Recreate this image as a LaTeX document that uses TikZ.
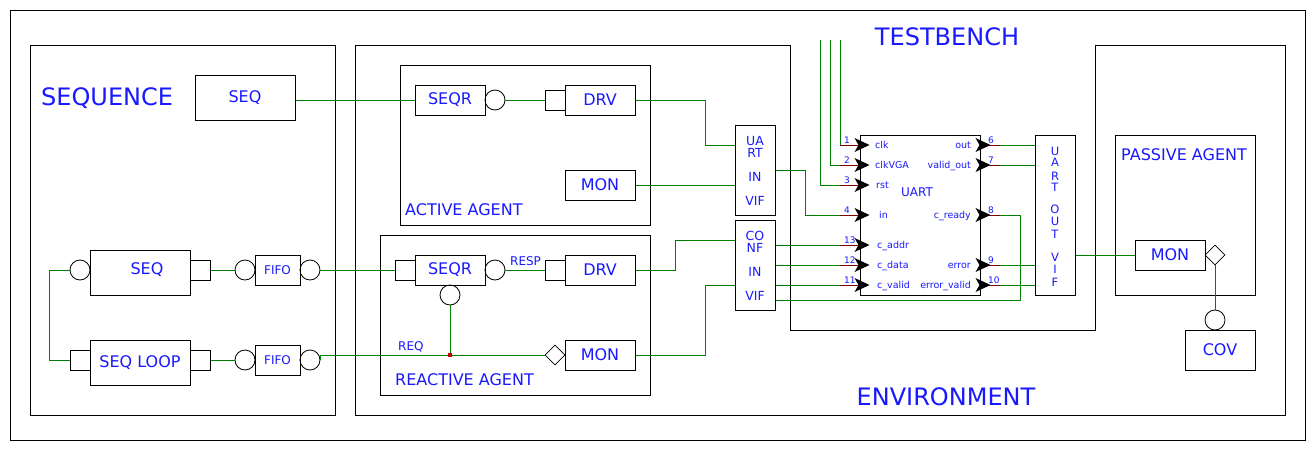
\documentclass[tikz,border=0pt]{standalone}
\usepackage{fontspec}
\setmainfont{DejaVu Sans}
\usetikzlibrary{shapes.geometric,calc}
\definecolor{txtblue}{RGB}{25,25,255}
\definecolor{wiregreen}{RGB}{0,128,0}
\definecolor{stubred}{RGB}{128,0,0}
\definecolor{dotred}{RGB}{200,0,0}
\newcommand\fsz[1]{\fontsize{#1}{#1}\selectfont}
\begin{document}
\begin{tikzpicture}[x=1pt,y=-1pt,
  blk/.style={draw=black,line width=1pt,inner sep=0pt,text=txtblue,font=\fsz{16},minimum width=70,minimum height=30},
  outline/.style={draw=black,line width=1pt},
  port/.style={draw=black,line width=0.8pt,circle,minimum size=20,inner sep=0pt},
  sqport/.style={draw=black,line width=1pt,minimum size=20,inner sep=0pt},
  dia/.style={draw=black,line width=0.8pt,diamond,minimum width=20,minimum height=20,inner sep=0pt},
  wire/.style={draw=wiregreen,line width=1pt},
  stub/.style={draw=stubred,line width=1pt},
  lbl/.style={text=txtblue,inner sep=0pt}
]
\useasboundingbox (0,0) rectangle (1315,450);
\fill[white] (0,0) rectangle (1315,450);
% frames
\draw[outline] (10,10) rectangle (1305,440);
\draw[outline] (30,45) rectangle (335,415);
\draw[outline] (355,45) -- (790,45) -- (790,330) -- (1095,330) -- (1095,45) -- (1285,45) -- (1285,415) -- (355,415) -- cycle;
\draw[outline] (400,65) rectangle (650,225);
\draw[outline] (380,235) rectangle (650,395);
\draw[outline] (1115,135) rectangle (1255,295);
% titles
\node[lbl,font=\fsz{24},anchor=base west] (tseq) at (41,105) {SEQUENCE};
\node[lbl,font=\fsz{24},anchor=base] (ttb) at (947,45) {TESTBENCH};
\node[lbl,font=\fsz{24},anchor=base] (tenv) at (946,405) {ENVIRONMENT};
\node[lbl,font=\fsz{16},anchor=base west] (tact) at (405,215) {ACTIVE AGENT};
\node[lbl,font=\fsz{16},anchor=base west] (treac) at (395,385) {REACTIVE AGENT};
\node[lbl,font=\fsz{16},anchor=base west] (tpas) at (1121,160) {PASSIVE AGENT};
\node[lbl,font=\fsz{12},anchor=base west] (tresp) at (510,265) {RESP};
\node[lbl,font=\fsz{12},anchor=base west] (treq) at (398,350) {REQ};
% sequence area
\node[blk,minimum width=100,minimum height=45] (seqtop) at (245,98) {SEQ};
\node[blk,minimum width=100,minimum height=45] (seq2) at (140,272.5) {};
\node[lbl,font=\fsz{16}] (seq2t) at (147,270) {SEQ};
\node[blk,minimum width=100,minimum height=45] (seql) at (140,362.5) {SEQ LOOP};
\node[port] (circS) at (80,270) {};
\node[sqport] (sqS) at (200,270) {};
\node[port] (cf1L) at (245,270) {};
\node[blk,font=\fsz{12},minimum width=45,minimum height=30] (fifo1) at (277.5,270) {FIFO};
\node[port] (cf1R) at (310,270) {};
\node[sqport] (sqL) at (80,360) {};
\node[sqport] (sqLR) at (200,360) {};
\node[port] (cf2L) at (245,360) {};
\node[blk,font=\fsz{12},minimum width=45,minimum height=30] (fifo2) at (277.5,360) {FIFO};
\node[port] (cf2R) at (310,360) {};
% active agent
\node[blk] (seqrA) at (450,100) {SEQR};
\node[port] (circA) at (495,100) {};
\node[sqport] (sqA) at (555,100) {};
\node[blk] (drvA) at (600,100) {DRV};
\node[blk] (monA) at (600,185) {MON};
\node[blk,minimum width=40,minimum height=90] (vifA) at (755,170) {};
\foreach \t/\b [count=\i] in {UA/145,RT/157,IN/181,VIF/205}
  \node[lbl,font=\fsz{12.5},anchor=base] (vifAt\i) at (755,\b) {\t};
% reactive agent
\node[blk] (seqrR) at (450,270) {SEQR};
\node[sqport] (sqR) at (405,270) {};
\node[port] (circR) at (495,270) {};
\node[port] (circR2) at (450,295) {};
\node[sqport] (sqR2) at (555,270) {};
\node[blk] (drvR) at (600,270) {DRV};
\node[blk] (monR) at (600,355) {MON};
\node[dia] (diaR) at (555,355) {};
\node[blk,minimum width=40,minimum height=90] (conf) at (755,265) {};
\foreach \t/\b [count=\i] in {CO/240,NF/252,IN/276,VIF/300}
  \node[lbl,font=\fsz{12.5},anchor=base] (conft\i) at (755,\b) {\t};
% UART
\node[draw=black,line width=1pt,minimum width=120,minimum height=160,inner sep=0pt] (uart) at (920,215) {};
\node[lbl,font=\fsz{12},anchor=base west] (uartt) at (901,196) {UART};
\node[blk,minimum width=40,minimum height=160] (uout) at (1055,215) {};
\foreach \t/\b [count=\i] in {U/155,A/166.7,R/180,T/191.7,O/213.3,U/225,T/238.3,V/261.7,I/273.3,F/286.7}
  \node[lbl,font=\fsz{11.5},anchor=base] (uoutt\i) at (1055,\b) {\t};
% passive agent
\node[blk] (monP) at (1170,255) {MON};
\node[dia] (diaP) at (1215,255) {};
\node[port] (circP) at (1215,320) {};
\node[blk,minimum width=70,minimum height=40] (cov) at (1220,350) {COV};
% pins
\foreach \y/\n in {145/1,165/2,185/3,215/4,245/13,265/12,285/11}
  \coordinate (pin\n) at (840,\y);
\foreach \y/\n in {145/6,165/7,215/8,265/9,285/10}
  \coordinate (pin\n) at (1000,\y);
\coordinate (ck1) at (840,40);
\coordinate (ck2) at (830,40);
\coordinate (ck3) at (820,40);
% wires
\draw[wire] (seqtop.east |- seqrA.west) -- (seqrA.west);
\draw[wire] (circA.east) -- (sqA.west);
\draw[wire] (drvA.east) -- ++(70,0) |- ([yshift=25pt]vifA.west);
\draw[wire] (monA.east) -- (monA.east -| vifA.west);
\draw[wire] (vifA.east) -- ++(30,0) |- (pin4);
\draw[wire] (ck1) -- (pin1);
\draw[wire] (ck2) |- (pin2);
\draw[wire] (ck3) |- (pin3);
\draw[wire] (circS.west) -- ++(-20,0) |- (sqL.west);
\draw[wire] (sqS.east) -- (cf1L.west);
\draw[wire] (cf1R.east) -- (sqR.west);
\draw[wire] (sqLR.east) -- (cf2L.west);
\draw[wire] (cf2R.east) |- (diaR.west);
\draw[wire] (circR.east) -- (sqR2.west);
\draw[wire] (drvR.east) -- ++(40,0) |- ([yshift=25pt]conf.west);
\draw[wire] (monR.east) -- ++(70,0) |- ([yshift=-20pt]conf.west);
\foreach \n in {13,12,11}
  \draw[wire] (conf.east |- pin\n) -- (pin\n);
\draw[wire] ([yshift=-35pt]conf.east) -- ++(245,0) |- (pin8);
\foreach \n in {6,7,9,10}
  \draw[wire] (pin\n) -- (pin\n -| uout.west);
\draw[wire] (monP.west -| uout.east) -- (monP.west);
\draw[wire] (diaP.south) -- (circP.north);
\node[fill=dotred,minimum size=4,inner sep=0pt] (req) at (450,355) {};
\draw[wire] (circR2.south) -- (req.north);
% pin stubs, arrowheads, labels
\foreach \y/\n/\l/\x in {145/1/clk/875,165/2/clkVGA/875,185/3/rst/876,215/4/in/879,245/13/c\_addr/877,265/12/c\_data/877,285/11/c\_valid/877}{
  \draw[stub] (pin\n) -- (uart.west |- pin\n);
  \fill[black] ($(uart.west |- pin\n)+(-5,-7)$) -- ++(15,7) -- ++(-15,7) -- ++(4,-7) -- cycle;
  \node[lbl,font=\fsz{9},anchor=base west] (pn\n) at (844,\y-1.5) {\n};
  \node[lbl,font=\fsz{9.5},anchor=base west] (pl\n) at (\x,\y+3.5) {\l};
}
\foreach \y/\n/\l in {145/6/out,165/7/valid\_out,215/8/c\_ready,265/9/error,285/10/error\_valid}{
  \draw[stub] (uart.east |- pin\n) -- (pin\n);
  \fill[black] ($(uart.east |- pin\n)+(-5,-7)$) -- ++(15,7) -- ++(-15,7) -- ++(4,-7) -- cycle;
  \node[lbl,font=\fsz{9},anchor=base west] (pn\n) at (988,\y-1.5) {\n};
  \node[lbl,font=\fsz{9.5},anchor=base east] (pl\n) at (971,\y+3.5) {\l};
}
\end{tikzpicture}
\end{document}
